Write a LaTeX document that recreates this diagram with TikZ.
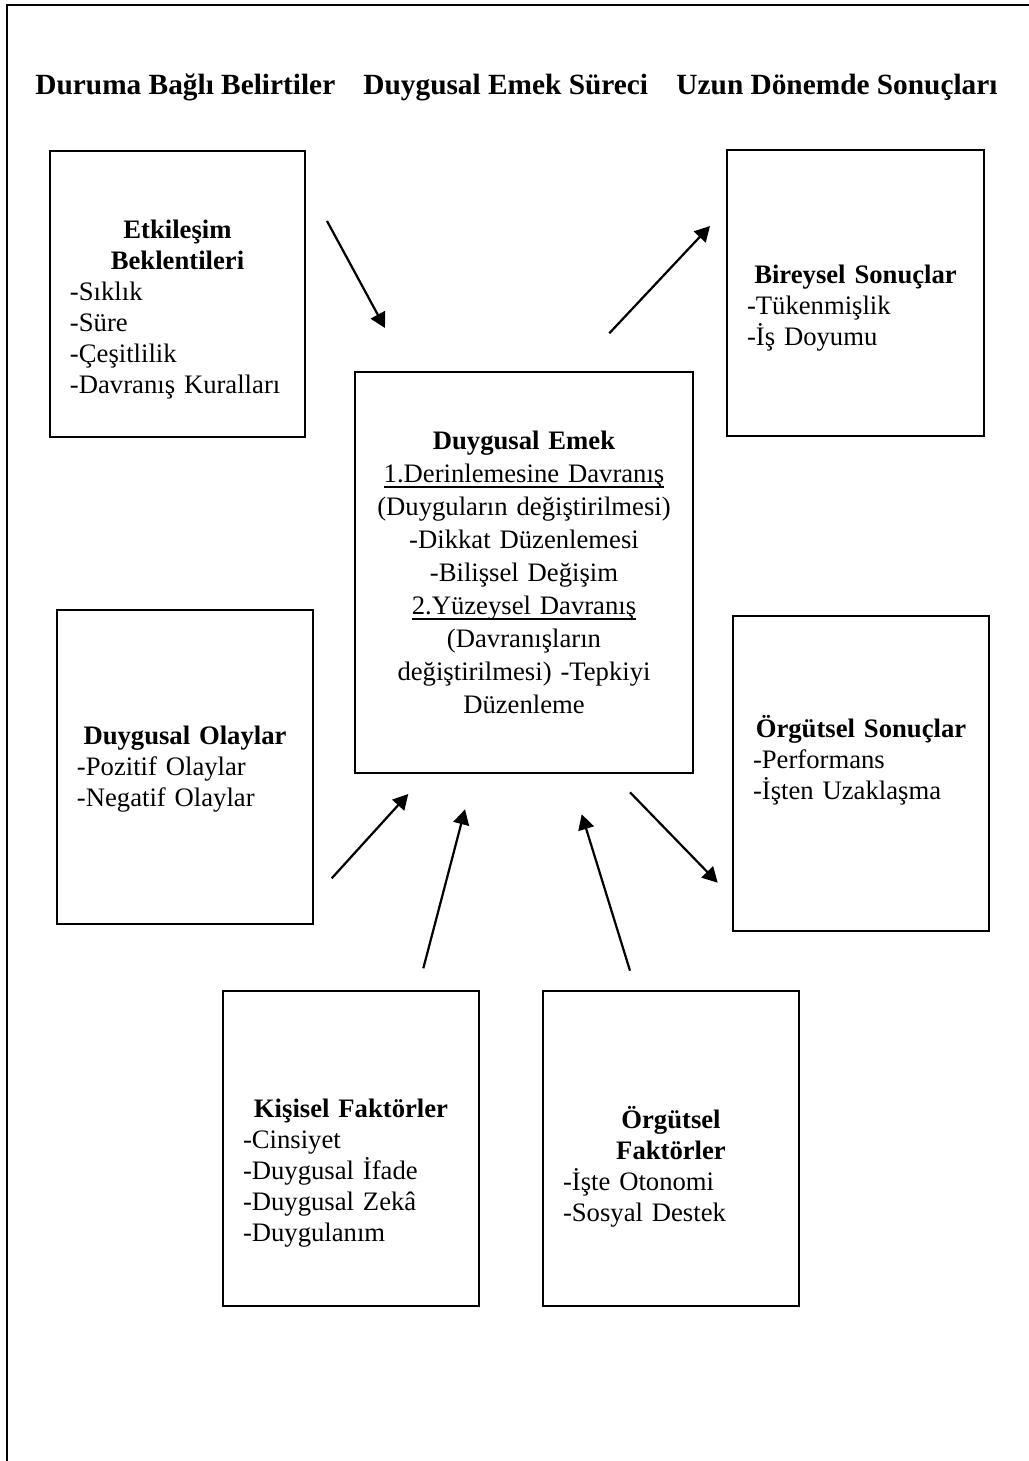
\documentclass[tikz,border=0pt]{standalone}
\usepackage{fontspec}
\setmainfont{Liberation Serif}
\usetikzlibrary{arrows.meta}
\newcommand\myul[1]{\leavevmode\setbox0\hbox{#1}\rlap{\rule[-2.2pt]{\wd0}{0.55pt}}\box0}
\begin{document}
\begin{tikzpicture}[x=0.45pt,y=-0.45pt,
  box/.style={draw, line width=1.1pt, inner sep=0pt},
  txt/.style={inner sep=0pt, align=left, font=\fontsize{12pt}{13.95pt}\selectfont},
  ctxt/.style={inner sep=0pt, align=center, text width=150pt, font=\fontsize{12pt}{14.85pt}\selectfont},
  hdr/.style={inner sep=0pt, font=\fontsize{13.2pt}{15.5pt}\selectfont\bfseries},
  arr/.style={line width=1pt, -{Triangle[length=6.8pt,width=7.2pt]}}]

\useasboundingbox (0,0) rectangle (1028,1461);

% outer frame (top and left only)
\coordinate (fr1) at (7,1461);
\coordinate (fr2) at (7,5);
\coordinate (fr3) at (1030,5);
\draw[line width=0.9pt] (fr1) -- (fr2) -- (fr3);

% column headers
\node[hdr, anchor=base west] (h1) at (35,94) {Duruma Bağlı Belirtiler};
\node[hdr, anchor=base west] (h2) at (363,94) {Duygusal Emek Süreci};
\node[hdr, anchor=base east] (h3) at (998,94) {Uzun Dönemde Sonuçları};

% boxes
\node[box, minimum width=114.75pt, minimum height=128.7pt] (etk) at (177.5,294) {};
\node[box, minimum width=115.65pt, minimum height=128.7pt] (bir) at (855.5,293) {};
\node[box, minimum width=152.1pt, minimum height=180.45pt] (cen) at (524,572.5) {};
\node[box, minimum width=115.2pt, minimum height=141.3pt] (duy) at (185,767) {};
\node[box, minimum width=115.2pt, minimum height=141.75pt] (org) at (861,773.5) {};
\node[box, minimum width=115.2pt, minimum height=141.75pt] (kis) at (351,1148.5) {};
\node[box, minimum width=115.2pt, minimum height=141.75pt] (orf) at (671,1148.5) {};

% box texts
\node[txt, text width=96.75pt] (etkT) at (177.5,310) {{\centering\bfseries Etkileşim\\ Beklentileri\par}-Sıklık\\ -Süre\\ -Çeşitlilik\\ -Davranış Kuralları};
\node[txt, text width=97.65pt] (birT) at (855.5,308.5) {{\centering\bfseries Bireysel Sonuçlar\par}-Tükenmişlik\\ -İş Doyumu};
\node[ctxt] (cenT) at (524,572.5) {\textbf{Duygusal Emek}\\ \myul{1.Derinlemesine Davranış}\\ (Duyguların değiştirilmesi)\\ -Dikkat Düzenlemesi\\ -Bilişsel Değişim\\ \myul{2.Yüzeysel Davranış}\\ (Davranışların\\ değiştirilmesi) -Tepkiyi\\ Düzenleme};
\node[txt, text width=97.2pt] (duyT) at (185,769) {{\centering\bfseries Duygusal Olaylar\par}-Pozitif Olaylar\\ -Negatif Olaylar};
\node[txt, text width=97.2pt] (orgT) at (861,760.5) {{\centering\bfseries Örgütsel Sonuçlar\par}-Performans\\ -İşten Uzaklaşma};
\node[txt, text width=97.2pt] (kisT) at (351,1173) {{\centering\bfseries Kişisel Faktörler\par}-Cinsiyet\\ -Duygusal İfade\\ -Duygusal Zekâ\\ -Duygulanım};
\node[txt, text width=97.2pt] (orfT) at (671,1167) {{\centering\bfseries Örgütsel\\ Faktörler\par}-İşte Otonomi\\ -Sosyal Destek};

% arrow end points
\coordinate (a1s) at (327,221);   \coordinate (a1e) at (385,328);
\coordinate (a2s) at (609.3,333.3); \coordinate (a2e) at (710,226);
\coordinate (a3s) at (331.7,878.3); \coordinate (a3e) at (408.3,794);
\coordinate (a4s) at (423.3,968.3); \coordinate (a4e) at (465,809.3);
\coordinate (a5s) at (630,970.7); \coordinate (a5e) at (581.7,814.3);
\coordinate (a6s) at (630,792.3); \coordinate (a6e) at (717.7,882.7);

\draw[arr] (a1s) -- (a1e);
\draw[arr] (a2s) -- (a2e);
\draw[arr] (a3s) -- (a3e);
\draw[arr] (a4s) -- (a4e);
\draw[arr] (a5s) -- (a5e);
\draw[arr] (a6s) -- (a6e);
\end{tikzpicture}
\end{document}
